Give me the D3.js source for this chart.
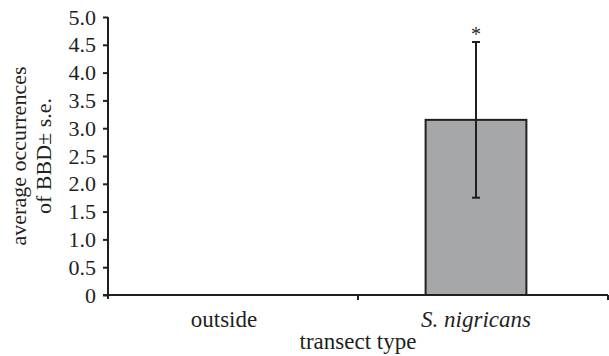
<!DOCTYPE html>
<html>
<head>
<meta charset="utf-8">
<script src="https://cdn.jsdelivr.net/npm/d3@7"></script>
<style>
  html, body { margin: 0; padding: 0; background: #fff; }
  text { font-family: 'Liberation Serif'; }
</style>
</head>
<body>
<svg id="chart" width="609" height="356"></svg>
<script>
// chart data
const categories = ['outside', 'S. nigricans'];
const means = [0, 3.15];
const stdErrs = [0, 1.4];
const yTicks = [0, 0.5, 1.0, 1.5, 2.0, 2.5, 3.0, 3.5, 4.0, 4.5, 5.0];

const ink = '#231f20';
const serif = 'Liberation Serif';
const svg = d3.select('#chart');

const y = d3.scaleLinear().domain([0, 5]).range([295, 17]);
// category centres / bars
const x = d3.scaleBand().domain(categories).range([98, 602])
  .paddingInner(0.6).paddingOuter(0.3);
// category boundaries for the x-axis ticks
const xb = d3.scaleLinear().domain([0, categories.length]).range([108, 608]);

// y axis
const yAxis = svg.append('g').attr('transform', `translate(${xb(0)},0)`)
  .call(d3.axisLeft(y).tickValues(yTicks).tickSizeOuter(0).tickSize(5).tickPadding(7)
    .tickFormat(d => d === 0 ? '0' : d3.format('.1f')(d)));
yAxis.attr('font-family', null).attr('font-size', null);
yAxis.select('.domain').attr('stroke', ink).attr('stroke-width', 2)
  .attr('d', `M0,${y(5)}V${y(0) + 4}`);
yAxis.selectAll('.tick line').attr('stroke', ink).attr('stroke-width', 2);
yAxis.selectAll('.tick text').attr('fill', ink)
  .attr('font-family', serif).attr('font-size', 22);

// bars
svg.append('g').selectAll('rect')
  .data(categories.map((c, i) => ({ c, v: means[i], e: stdErrs[i] })).filter(d => d.v > 0))
  .join('rect')
  .attr('x', d => x(d.c))
  .attr('y', d => y(d.v))
  .attr('width', x.bandwidth())
  .attr('height', d => y(0) - y(d.v))
  .attr('fill', '#a6a7a9')
  .attr('stroke', ink).attr('stroke-width', 2);

// x axis line + boundary ticks
svg.append('line')
  .attr('x1', xb(0) - 5).attr('x2', xb(categories.length))
  .attr('y1', y(0)).attr('y2', y(0))
  .attr('stroke', ink).attr('stroke-width', 2);
svg.append('g').selectAll('line')
  .data(d3.range(1, categories.length + 1))
  .join('line')
  .attr('x1', d => xb(d)).attr('x2', d => xb(d))
  .attr('y1', y(0)).attr('y2', y(0) + 5)
  .attr('stroke', ink).attr('stroke-width', 2);

// error bars
const errs = categories.map((c, i) => ({ c, v: means[i], e: stdErrs[i] })).filter(d => d.e > 0);
const eg = svg.append('g').attr('stroke', ink).attr('stroke-width', 2);
errs.forEach(d => {
  const cx = x(d.c) + x.bandwidth() / 2;
  eg.append('line').attr('x1', cx).attr('x2', cx).attr('y1', y(d.v + d.e)).attr('y2', y(d.v - d.e));
  eg.append('line').attr('x1', cx - 4).attr('x2', cx + 4).attr('y1', y(d.v + d.e)).attr('y2', y(d.v + d.e));
  eg.append('line').attr('x1', cx - 4).attr('x2', cx + 4).attr('y1', y(d.v - d.e)).attr('y2', y(d.v - d.e));
  svg.append('text').attr('x', cx).attr('y', y(d.v + d.e) - 1)
    .attr('text-anchor', 'middle').attr('font-family', serif).attr('font-size', 20)
    .attr('fill', ink).text('*');
});

// category labels
svg.append('g').selectAll('text').data(categories).join('text')
  .attr('x', d => x(d) + x.bandwidth() / 2)
  .attr('y', 327)
  .attr('text-anchor', 'middle')
  .attr('font-family', serif)
  .attr('font-size', 23)
  .attr('fill', ink)
  .attr('font-style', d => d === 'outside' ? 'normal' : 'italic')
  .text(d => d);

// axis titles
svg.append('text').attr('x', xb(1)).attr('y', 349)
  .attr('text-anchor', 'middle').attr('font-family', serif).attr('font-size', 23)
  .attr('fill', ink).text('transect type');

const yt = svg.append('text').attr('transform', `translate(0,${(y(0) + y(5)) / 2}) rotate(-90)`)
  .attr('text-anchor', 'middle').attr('font-family', serif).attr('font-size', 22).attr('fill', ink);
yt.append('tspan').attr('x', 0).attr('y', 26).text('average occurrences');
yt.append('tspan').attr('x', 0).attr('y', 51).text('of BBD\u00b1 s.e.');
</script>
</body>
</html>
